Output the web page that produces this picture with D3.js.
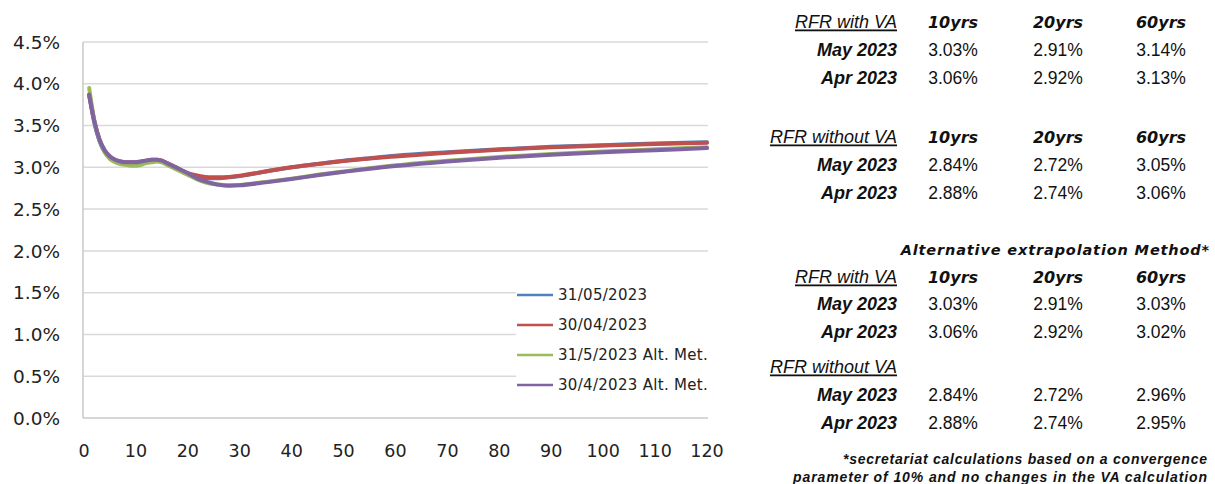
<!DOCTYPE html>
<html>
<head>
<meta charset="utf-8">
<script src="https://cdn.jsdelivr.net/npm/d3@7"></script>
<style>
body{margin:0;background:#fff;}
svg{display:block;}
</style>
</head>
<body>
<script>
// maturities (years) and rates (%)
var maturities = [1,2,3,4,5,6,7,8,9,10,11,12,13,14,15,16,17,18,19,20,22,24,26,28,30,35,40,45,50,55,60,70,80,90,100,110,120];
var may31 =   [3.86,3.53,3.31,3.18,3.11,3.07,3.05,3.04,3.03,3.03,3.04,3.06,3.07,3.08,3.07,3.04,3.01,2.98,2.95,2.92,2.89,2.87,2.87,2.88,2.895,2.95,3.00,3.04,3.078,3.11,3.14,3.18,3.215,3.245,3.265,3.285,3.30];
var apr30 =   [3.87,3.55,3.33,3.20,3.13,3.09,3.07,3.06,3.06,3.06,3.07,3.08,3.09,3.09,3.08,3.05,3.02,2.99,2.96,2.93,2.90,2.88,2.88,2.885,2.90,2.95,3.00,3.04,3.075,3.105,3.13,3.175,3.21,3.24,3.26,3.28,3.295];
var may31Alt = [3.95,3.56,3.32,3.18,3.10,3.06,3.04,3.03,3.02,3.02,3.03,3.05,3.06,3.07,3.06,3.03,3.00,2.97,2.94,2.91,2.85,2.81,2.795,2.785,2.79,2.825,2.865,2.91,2.95,2.99,3.025,3.08,3.125,3.16,3.19,3.215,3.24];
var apr30Alt = [3.87,3.55,3.33,3.20,3.13,3.09,3.07,3.06,3.06,3.06,3.07,3.08,3.09,3.09,3.08,3.05,3.02,2.99,2.96,2.93,2.86,2.82,2.79,2.78,2.785,2.82,2.86,2.905,2.945,2.983,3.015,3.07,3.115,3.15,3.18,3.205,3.23];

var seriesNames = ['31/05/2023','30/04/2023','31/5/2023 Alt. Met.','30/4/2023 Alt. Met.'];
var seriesColors = ['#4F81BD','#C0504D','#9BBB59','#8064A2'];
var seriesValues = [may31, apr30, may31Alt, apr30Alt];

var yTicks = [0,0.5,1,1.5,2,2.5,3,3.5,4,4.5];
var xTicks = [0,10,20,30,40,50,60,70,80,90,100,110,120];

// table on the right
var tenors = ['10yrs','20yrs','60yrs'];
var rowLabels = ['May 2023','Apr 2023'];
var withVA = [['3.03%','2.91%','3.14%'],['3.06%','2.92%','3.13%']];
var withoutVA = [['2.84%','2.72%','3.05%'],['2.88%','2.74%','3.06%']];
var altWithVA = [['3.03%','2.91%','3.03%'],['3.06%','2.92%','3.02%']];
var altWithoutVA = [['2.84%','2.72%','2.96%'],['2.88%','2.74%','2.95%']];

var W = 1215, H = 484;
var svg = d3.select('body').append('svg').attr('width', W).attr('height', H);

var x = d3.scaleLinear().domain([0,120]).range([84,707]);
var y = d3.scaleLinear().domain([0,4.5]).range([418,42]);

// gridlines
svg.append('g').selectAll('line').data(yTicks.slice(1)).join('line')
  .attr('x1', 83).attr('x2', 708)
  .attr('y1', d => y(d)).attr('y2', d => y(d))
  .attr('stroke', '#d9d9d9').attr('stroke-width', 1.5);

// axes lines
svg.append('line').attr('x1',83).attr('x2',708).attr('y1',y(0)).attr('y2',y(0))
  .attr('stroke','#c8c8c8').attr('stroke-width',1.5);
svg.append('line').attr('x1',83).attr('x2',83).attr('y1',y(4.5)).attr('y2',y(0))
  .attr('stroke','#c8c8c8').attr('stroke-width',1.5);

// y labels
svg.append('g').selectAll('text').data(yTicks).join('text')
  .attr('x', 60).attr('y', d => y(d)).attr('dy','0.36em')
  .attr('text-anchor','end')
  .style('font-family','"DejaVu Sans", sans-serif').style('font-size','18.5px').style('fill','#222')
  .text(d => d.toFixed(1) + '%');

// x labels
svg.append('g').selectAll('text').data(xTicks).join('text')
  .attr('x', d => x(d)).attr('y', 457)
  .attr('text-anchor','middle')
  .style('font-family','"DejaVu Sans", sans-serif').style('font-size','17.5px').style('fill','#222')
  .text(d => d);

// lines
var line = d3.line()
  .x((d,i) => x(maturities[i]))
  .y(d => y(d))
  .curve(d3.curveMonotoneX);

seriesValues.forEach(function(vals, k){
  svg.append('path').datum(vals)
    .attr('d', line)
    .attr('fill','none')
    .attr('stroke', seriesColors[k])
    .attr('stroke-width', 4)
    .attr('stroke-linejoin','round')
    .attr('stroke-linecap','round');
});

// legend
svg.append('rect').attr('x',516).attr('y',282).attr('width',192).attr('height',116).attr('fill','#fff');
seriesNames.forEach(function(name, k){
  var ly = 295 + k*30;
  svg.append('line').attr('x1',517).attr('x2',553).attr('y1',ly).attr('y2',ly)
    .attr('stroke', seriesColors[k]).attr('stroke-width',2.5);
  svg.append('text').attr('x',558).attr('y',ly).attr('dy','0.36em')
    .style('font-family','"DejaVu Sans", sans-serif').style('font-size','15px')
    .style('letter-spacing','0.3px').style('fill','#222')
    .text(name);
});

// table
var colX = [953, 1058, 1161];
var labelX = 897;
var arial = '"Liberation Sans", Arial, sans-serif';
var verdana = '"DejaVu Sans", Verdana, sans-serif';

function header(title, yy, showTenors){
  svg.append('text').attr('x',labelX).attr('y',yy).attr('dy','0.36em')
    .attr('text-anchor','end')
    .style('font-family',arial).style('font-size','18px').style('font-style','italic')
    .style('text-decoration','underline').style('fill','#111')
    .text(title);
  if (showTenors) {
    tenors.forEach(function(t,i){
      svg.append('text').attr('x',colX[i]).attr('y',yy).attr('dy','0.36em')
        .attr('text-anchor','middle')
        .style('font-family',verdana).style('font-size','16px').style('font-style','italic').style('font-weight','bold')
        .style('fill','#111').text(t);
    });
  }
}
function rows(vals, y0, gap){
  rowLabels.forEach(function(lbl, r){
    var yy = y0 + r*gap;
    svg.append('text').attr('x',labelX).attr('y',yy).attr('dy','0.36em')
      .attr('text-anchor','end')
      .style('font-family',arial).style('font-size','18px').style('font-style','italic').style('font-weight','bold')
      .style('fill','#111').text(lbl);
    vals[r].forEach(function(v,i){
      svg.append('text').attr('x',colX[i]).attr('y',yy).attr('dy','0.36em')
        .attr('text-anchor','middle')
        .style('font-family',arial).style('font-size','17.5px').style('fill','#111')
        .text(v);
    });
  });
}

header('RFR with VA', 22, true);
rows(withVA, 50, 27.5);
header('RFR without VA', 137, true);
rows(withoutVA, 165, 27.5);

svg.append('text').attr('x',1210).attr('y',250).attr('dy','0.36em')
  .attr('text-anchor','end')
  .style('font-family',verdana).style('font-size','14.5px').style('font-style','italic').style('font-weight','bold')
  .style('letter-spacing','0.85px').style('fill','#111')
  .text('Alternative extrapolation Method*');

header('RFR with VA', 277, true);
rows(altWithVA, 304, 27.5);
header('RFR without VA', 367, false);
rows(altWithoutVA, 395, 27.5);

var notes = ['*secretariat calculations based on a convergence', 'parameter of 10% and no changes in the VA calculation'];
var noteWidths = [364, 414];
notes.forEach(function(n, i){
  svg.append('text').attr('x',1207 - noteWidths[i]).attr('y',459 + i*18).attr('dy','0.36em')
    .attr('textLength', noteWidths[i]).attr('lengthAdjust','spacing')
    .style('font-family',arial).style('font-size','14px').style('font-style','italic').style('font-weight','bold')
    .style('fill','#111').text(n);
});
</script>
</body>
</html>
